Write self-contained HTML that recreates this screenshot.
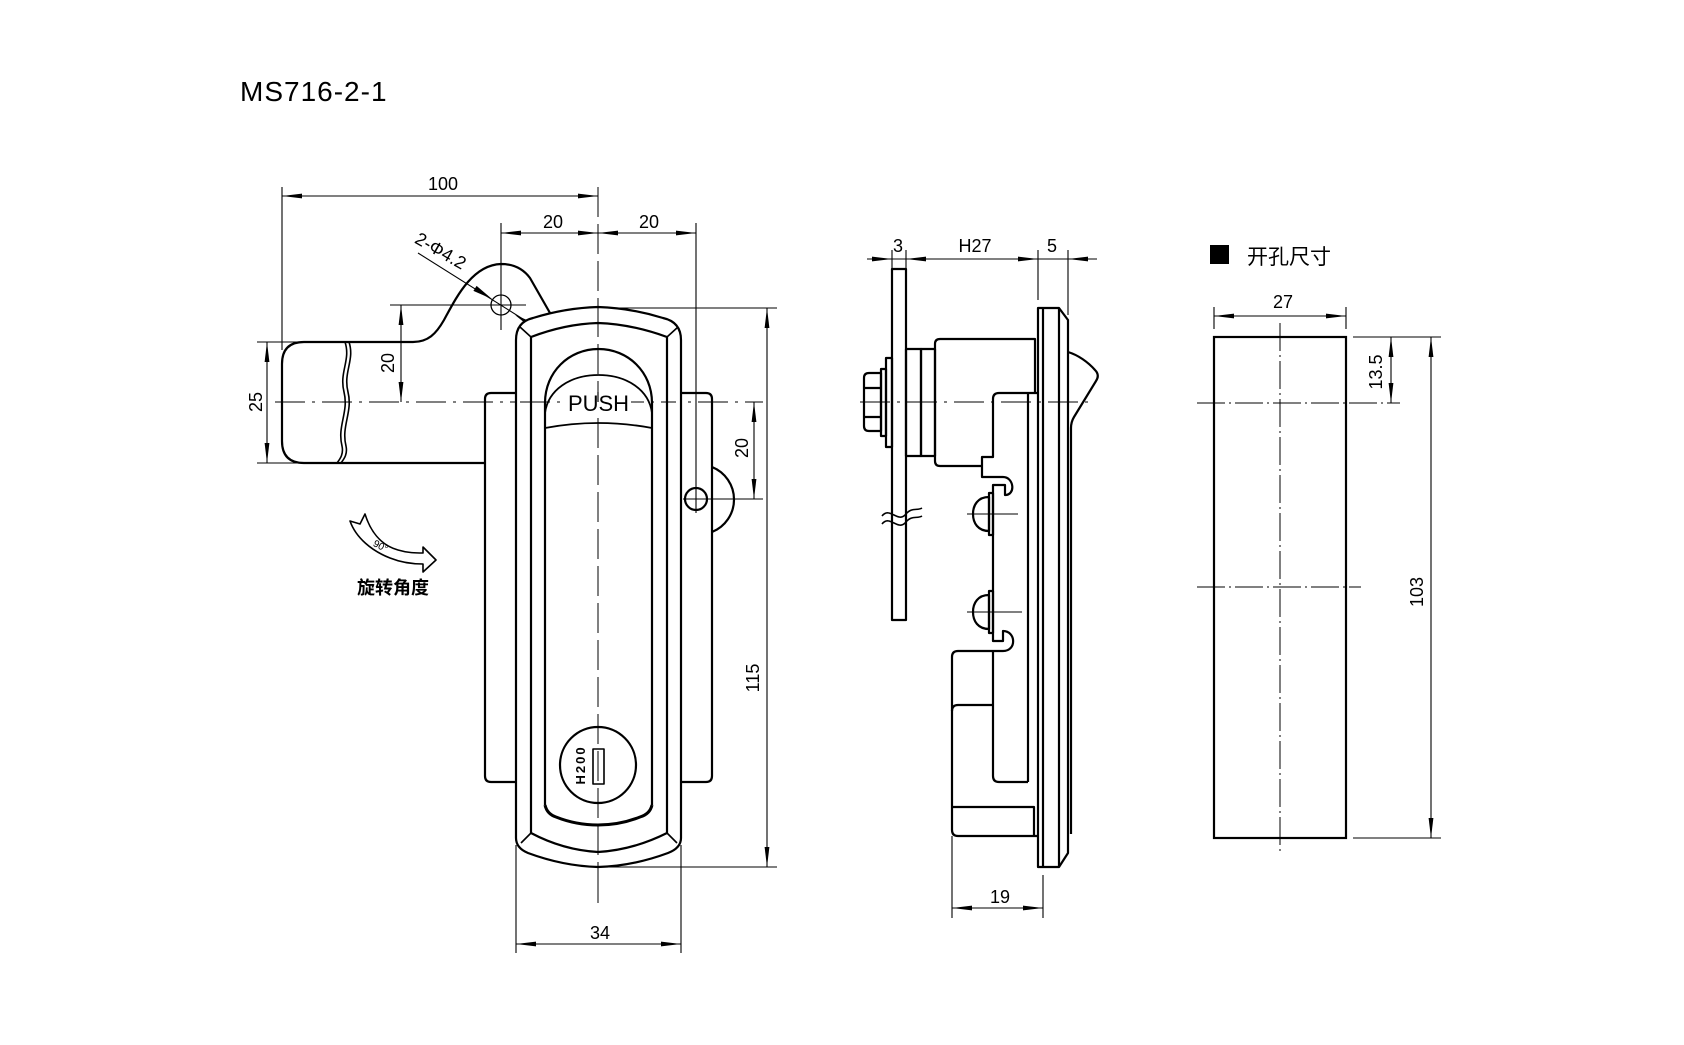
<!DOCTYPE html>
<html><head><meta charset="utf-8"><style>
html,body{margin:0;padding:0;background:#fff;}
svg{display:block;}
text{font-family:"Liberation Sans","Noto Sans CJK SC",sans-serif;fill:#000;}
</style></head><body>
<svg width="1684" height="1045" viewBox="0 0 1684 1045" xmlns="http://www.w3.org/2000/svg">
<defs>
<marker id="ar" viewBox="0 0 20 6" refX="20" refY="3" markerWidth="20" markerHeight="6" orient="auto-start-reverse" markerUnits="userSpaceOnUse"><path d="M0,0.6 L20,3 L0,5.4z" fill="#000"/></marker>
</defs>
<rect width="1684" height="1045" fill="#fff"/>

<text x="240" y="101" font-size="28" letter-spacing="1">MS716-2-1</text>

<!-- ============ FRONT VIEW ============ -->
<g fill="none" stroke="#000" stroke-width="1.1">
  <!-- extension lines -->
  <path d="M282,187V350 M501,223V330 M696,223V513 M390,305H526 M257,342H300 M257,463H300 M598,308H777 M598,867H777 M683,499H763 M516,845V953 M681,845V953"/>
  <!-- hole cross -->
  <path d="M485,305H526"/>
</g>
<!-- centerlines -->
<g fill="none" stroke="#000" stroke-width="1">
  <path d="M598,187V903" stroke-dasharray="30,7"/>
  <path d="M275,402H763" stroke-dasharray="30,7,3,7"/>
</g>
<!-- dimension lines -->
<g fill="none" stroke="#000" stroke-width="1.1" marker-start="url(#ar)" marker-end="url(#ar)">
  <line x1="282" y1="196" x2="598" y2="196"/>
  <line x1="501" y1="233" x2="598" y2="233"/>
  <line x1="598" y1="233" x2="696" y2="233"/>
  <line x1="267" y1="342" x2="267" y2="463"/>
  <line x1="401" y1="305" x2="401" y2="402"/>
  <line x1="754" y1="402" x2="754" y2="499"/>
  <line x1="767" y1="308" x2="767" y2="867"/>
  <line x1="516" y1="944" x2="681" y2="944"/>
</g>
<g font-size="18" text-anchor="middle">
  <text x="443" y="190">100</text>
  <text x="553" y="228">20</text>
  <text x="649" y="228">20</text>
  <text x="600" y="939">34</text>
  <text transform="translate(262,402) rotate(-90)">25</text>
  <text transform="translate(394,363) rotate(-90)">20</text>
  <text transform="translate(748,448) rotate(-90)">20</text>
  <text transform="translate(759,678) rotate(-90)">115</text>
  <text transform="translate(440,252) rotate(30)" dominant-baseline="middle">2-Φ4.2</text>
</g>
<!-- leader -->
<path d="M418,253 L534,326" stroke="#000" stroke-width="1.1" fill="none"/>
<polygon points="492,299 473.4,290.9 476.6,285.9" fill="#000"/>
<polygon points="515,315 531.4,328.1 534.6,323.1" fill="#000"/>

<g fill="none" stroke="#000" stroke-width="2.2" stroke-linejoin="round">
  <!-- lever -->
  <path d="M485,463 H304 Q282,463 282,441 V364 Q282,342 304,342 H413 C428,342 436,334 444,320 C456,298 472,265 501,264 C515,264 524,270 530,278 L550,313"/>
  <!-- hole circles -->
  <circle cx="501" cy="305" r="10" stroke-width="1.3"/>
  <circle cx="696" cy="499" r="11"/>
  <path d="M712,467 A35,35 0 0 1 712,532"/>
  <!-- backplate -->
  <path d="M516,393 H491 Q485,393 485,399 V776 Q485,782 491,782 H516"/>
  <path d="M681,393 H706 Q712,393 712,399 V776 Q712,782 706,782 H681"/>
  <!-- cap outer -->
  <path d="M516,838 V340 Q516,322 533,318 Q565,308 598,307 Q631,308 663,318 Q681,322 681,340 V838 Q681,848 668,853 Q633,866 598,867 Q563,866 528,853 Q516,848 516,838 Z" fill="#fff"/>
  <!-- cap inner -->
  <path d="M531,833 V337 Q565,324 598,323 Q631,324 667,337 V833 Q633,850 598,852 Q563,850 531,833 Z"/>
  <path d="M531,337 L520,327 M667,337 L678,327 M531,833 L521,843 M667,833 L677,843" stroke-width="1.6"/>
  <!-- recess -->
  <path d="M545,805 V403 C545,372 569,349 598.5,349 C628,349 652,372 652,403 V805"/>
  <path d="M545,805 Q547,814 556,817 Q576,825 598,825 Q620,825 640,817 Q650,814 652,805" stroke-width="3"/>
  <path d="M545,413 C548,390 570,375 598.5,375 C627,375 649,390 652,413" stroke-width="1.8"/>
  <path d="M545,428 Q598,418 652,428" stroke-width="1.8"/>
  <!-- key -->
  <circle cx="598" cy="765" r="38"/>
  <rect x="593" y="749" width="11" height="35" stroke-width="1.6"/>
</g>
<!-- break wavy lines -->
<g fill="none" stroke="#000" stroke-width="1.6">
  <path d="M345,342 C351,360 339,372 344,392 C349,412 337,426 342,446 C344,455 339,460 337,463"/>
  <path d="M349,342 C355,360 343,372 348,392 C353,412 341,426 346,446 C348,455 343,460 341,463"/>
</g>
<!-- re-draw centerline over cap -->
<path d="M598,307V903" stroke="#000" stroke-width="1" stroke-dasharray="30,7" fill="none"/>
<path d="M520,402H676" stroke="#000" stroke-width="1" stroke-dasharray="30,7,3,7" fill="none"/>
<!-- PUSH -->
<rect x="566" y="392" width="65" height="22" fill="#fff"/>
<text x="598.5" y="411" font-size="22" text-anchor="middle">PUSH</text>
<path d="M598,402V392" stroke="#000" stroke-width="1.2"/>
<text transform="translate(585,765) rotate(-90)" font-size="13" font-weight="bold" text-anchor="middle" letter-spacing="2">H200</text>

<!-- rotation icon -->
<path d="M350,521 L360,524 L365,514 C370,530 380,545 398,550 C408,553 416,553 423,553 L423,547 L436,560 L423,572 L423,564 C412,564 400,562 390,558 C372,551 356,538 350,521 Z" fill="#fff" stroke="#000" stroke-width="1.6" stroke-linejoin="round"/>
<text transform="translate(379,549) rotate(28)" font-size="10" text-anchor="middle">90°</text>
<text x="393" y="594" font-size="18" font-weight="bold" text-anchor="middle" font-family="'Noto Sans CJK SC',sans-serif">旋转角度</text>

<!-- ============ SIDE VIEW ============ -->
<g fill="none" stroke="#000" stroke-width="1.1">
  <path d="M892,250V269 M906,250V269 M1038,250V300 M1068,250V315 M952,836V918 M1043,875V918"/>
  <line x1="867" y1="259" x2="1097" y2="259"/>
  <line x1="867" y1="259" x2="892" y2="259" marker-end="url(#ar)"/>
  <line x1="928" y1="259" x2="906" y2="259" marker-end="url(#ar)"/>
  <line x1="1017" y1="259" x2="1038" y2="259" marker-end="url(#ar)"/>
  <line x1="1090" y1="259" x2="1068" y2="259" marker-end="url(#ar)"/>
  <line x1="952" y1="908" x2="1043" y2="908" marker-start="url(#ar)" marker-end="url(#ar)"/>
</g>
<g font-size="18" text-anchor="middle">
  <text x="898" y="252">3</text>
  <text x="975" y="252">H27</text>
  <text x="1052" y="252">5</text>
  <text x="1000" y="903">19</text>
</g>
<g fill="none" stroke="#000" stroke-width="2.2" stroke-linejoin="round">
  <!-- panel -->
  <rect x="892" y="269" width="14" height="351"/>
  <!-- nut & washers -->
  <path d="M881,373 H869 Q864,373 864,378 V426 Q864,431 869,431 H881 Z M864,388H881 M864,417H881"/>
  <rect x="881" y="369" width="5" height="67"/>
  <rect x="886" y="358" width="6" height="89"/>
  <!-- rings -->
  <rect x="906" y="349" width="15" height="107"/>
  <rect x="921" y="349" width="14" height="107"/>
  <!-- body -->
  <path d="M982,466 H940 Q935,466 935,461 V344 Q935,339 940,339 H1035 V393"/>
  <!-- backplate side -->
  <path d="M1038,393 H999 Q993,393 993,399 V457 H982 V477 H1003 C1014,477 1016,495 1005,495 V485 H993 V641 H1003 V631 C1016,631 1017,651 1003,651 H958 Q952,651 952,657 V830 Q952,836 958,836 H1038"/>
  <path d="M952,711 Q952,705 958,705 H993"/>
  <path d="M993,651 V776 Q993,782 999,782 H1028"/>
  <path d="M952,807 H1034 V836"/>
  <path d="M1028,393 V782"/>
  <!-- screws -->
  <path d="M989,497 C978,497 973,505 973,514 C973,523 978,531 989,531 Z"/>
  <rect x="989" y="493" width="4" height="42"/>
  <path d="M989,595 C978,595 973,603 973,612 C973,621 978,629 989,629 Z"/>
  <rect x="989" y="591" width="4" height="42"/>
  <!-- cap plate -->
  <path d="M1038,308 H1059 L1068,320 V853 L1059,867 H1038 Z"/>
  <path d="M1043,308 V867 M1059,308 V867"/>
  <!-- lever protrusion -->
  <path d="M1068,352 C1078,355 1088,362 1095,370 C1099,374 1098,378 1096,381 L1074,417 Q1071,422 1071,428 V834"/>
</g>
<!-- panel break -->
<path d="M882,516 C890,506 898,524 906,514 C912,507 917,511 922,508 M882,524 C890,514 898,532 906,522 C912,515 917,519 922,516" fill="none" stroke="#000" stroke-width="1.6"/>
<!-- side centerlines -->
<g fill="none" stroke="#000" stroke-width="1">
  <path d="M860,402H1090" stroke-dasharray="30,7,3,7"/>
  <path d="M967,514H1018 M967,612H1022"/>
</g>

<!-- ============ CUTOUT ============ -->
<rect x="1210" y="245" width="19" height="19" fill="#000"/>
<text x="1247" y="264" font-size="21" font-family="'Noto Sans CJK SC',sans-serif">开孔尺寸</text>
<rect x="1214" y="337" width="132" height="501" fill="none" stroke="#000" stroke-width="2.2"/>
<g fill="none" stroke="#000" stroke-width="1">
  <path d="M1280,323V852" stroke-dasharray="28,4,2,4"/>
  <path d="M1197,403H1400" stroke-dasharray="28,4,2,4"/>
  <path d="M1197,587H1361" stroke-dasharray="28,4,2,4"/>
</g>
<g fill="none" stroke="#000" stroke-width="1.1">
  <path d="M1214,307V329 M1346,307V329 M1353,337H1441 M1353,838H1441"/>
</g>
<g fill="none" stroke="#000" stroke-width="1.1" marker-start="url(#ar)" marker-end="url(#ar)">
  <line x1="1214" y1="316" x2="1346" y2="316"/>
  <line x1="1391" y1="337" x2="1391" y2="403"/>
  <line x1="1431" y1="337" x2="1431" y2="838"/>
</g>
<g font-size="18" text-anchor="middle">
  <text x="1283" y="308">27</text>
  <text transform="translate(1382,372) rotate(-90)">13.5</text>
  <text transform="translate(1423,592) rotate(-90)">103</text>
</g>
</svg>
</body></html>
